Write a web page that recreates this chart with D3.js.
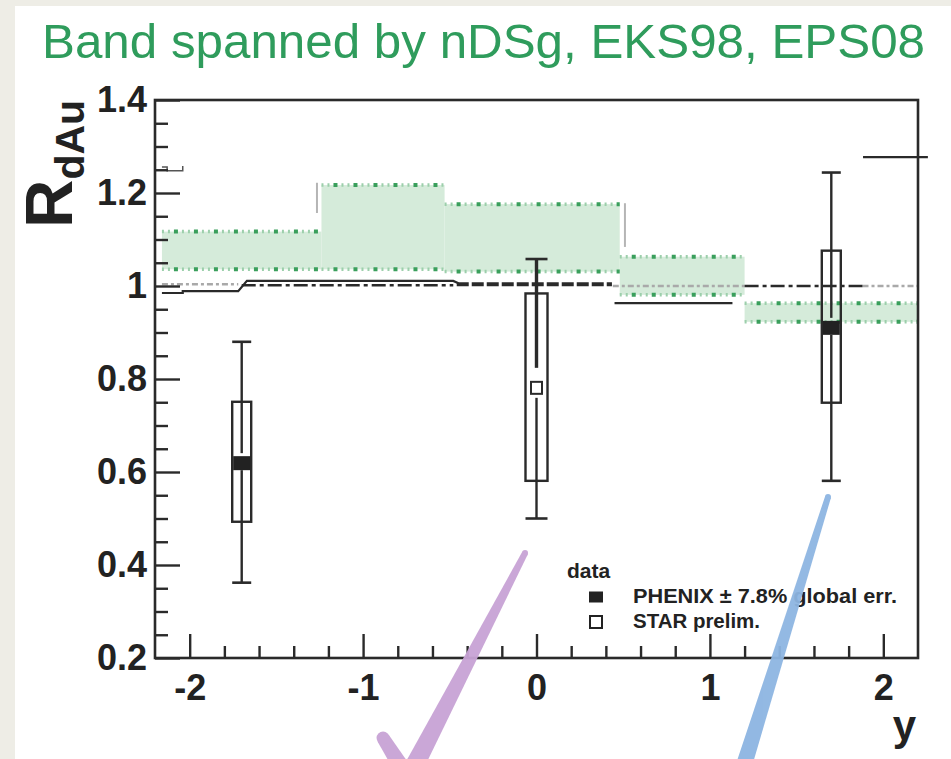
<!DOCTYPE html>
<html><head><meta charset="utf-8">
<script src="https://cdn.jsdelivr.net/npm/d3@7"></script>
<style>
html,body{margin:0;padding:0;background:#fff;}
svg{display:block;}
</style></head>
<body>
<svg id="chart" width="951" height="759"></svg>
<script>
// ---- nPDF band (envelope of nDSg, EKS98, EPS08), step per rapidity bin ----
const bandEdges = [-2.16, -1.24, -0.53, 0.48, 1.2, 2.2];
const bandHigh  = [1.117, 1.217, 1.176, 1.063, 0.963];
const bandLow   = [1.036, 1.036, 1.031, 0.981, 0.923];

// ---- measured R_dAu ----
const pointY    = [-1.7, 0, 1.7];
const pointR    = [0.619, 0.781, 0.910];
const statLow   = [0.362, 0.500, 0.581];
const statHigh  = [0.880, 1.058, 1.244];
const sysLow    = [0.493, 0.581, 0.749];
const sysHigh   = [0.751, 0.984, 1.076];
const pointExp  = ["PHENIX", "STAR", "PHENIX"];

// ---- individual model curves near unity ----
const solidX  = [-2.16, -2.04, -2.04, -1.72, -1.67, -0.48, -0.45];
const solidR  = [0.985, 0.985, 0.989, 0.989, 1.011, 1.011, 1.006];
const solid2X = [0.45, 1.13];
const solid2R = [0.963, 0.963];
const dashDotFrom = [-1.70, 1.20];
const dashDotTo   = [-0.48, 1.88];
const dashDotR    = [1.0015, 1.0];
const thickFrom = [-0.46];
const thickTo   = [0.435];
const thickR    = [1.004];
const grayFrom = [-2.16, 0.44, 1.88];
const grayTo   = [-1.72, 1.20, 2.20];
const grayR    = [1.004, 1.0, 1.0];
const grayVertX  = [-1.266, 0.51];
const grayVertLo = [1.157, 1.084];
const grayVertHi = [1.222, 1.178];

// ---- global normalisation markers ----
const globalRightFrom = 1.883, globalRightTo = 2.257, globalRightR = 1.277;
const globalLeftX = [-2.16, -2.13, -2.13, -2.04, -2.04];
const globalLeftR = [1.256, 1.256, 1.248, 1.248, 1.258];

// ---- axis ticks ----
const yTickValues = [0.2, 0.4, 0.6, 0.8, 1, 1.2, 1.4];
const yTickLabels = ["0.2", "0.4", "0.6", "0.8", "1", "1.2", "1.4"];
const xTickValues = [-2, -1, 0, 1, 2];
const xTickLabels = ["-2", "-1", "0", "1", "2"];

// ---- legend ----
const legendTitle = "data";
const legendNames = ["PHENIX \u00b1 7.8% global err.", "STAR prelim."];
const legendKinds = ["PHENIX", "STAR"];

// ---- hand-drawn check marks (in axis units) ----
const penPurpleX = [-0.066, -0.701];
const penPurpleR = [0.4258, -0.030];
const penPurple2X = [-0.885, -0.787];
const penPurple2R = [0.028, -0.030];
const penBlueX = [1.681, 1.197];
const penBlueR = [0.546, -0.030];

const svg = d3.select("#chart");
const W = 951, H = 759;
const FONT = "'Liberation Sans', Arial, Helvetica, sans-serif";
const INK = "#2a2a2a";

// page background
svg.append("rect").attr("width", W).attr("height", H).attr("fill", "#eeede6");
svg.append("rect").attr("x", 15).attr("y", 6).attr("width", W - 15).attr("height", H - 6).attr("fill", "#ffffff");

const x = d3.scaleLinear().domain([-2.2, 2.2]).range([155, 918]);
const y = d3.scaleLinear().domain([0.2, 1.4]).range([658, 100]);

svg.append("clipPath").attr("id", "plotClip")
  .append("rect").attr("x", 155).attr("y", 100).attr("width", 763).attr("height", 558);

// title
svg.append("text")
  .attr("x", 42).attr("y", 58)
  .attr("font-family", FONT).attr("font-size", 49)
  .attr("fill", "#2f9c5c")
  .attr("textLength", 883).attr("lengthAdjust", "spacingAndGlyphs")
  .text("Band spanned by nDSg, EKS98, EPS08");

const plot = svg.append("g").attr("clip-path", "url(#plotClip)");

// band fill
const bandIdx = d3.range(bandHigh.length);
plot.append("g").selectAll("rect").data(bandIdx).join("rect")
  .attr("x", i => x(bandEdges[i]))
  .attr("width", i => x(bandEdges[i + 1]) - x(bandEdges[i]))
  .attr("y", i => y(bandHigh[i]))
  .attr("height", i => y(bandLow[i]) - y(bandHigh[i]))
  .attr("fill", "#d5ebda");

// band borders: green dotted
const borderSegs = [];
bandIdx.forEach(i => {
  borderSegs.push({x0: bandEdges[i], x1: bandEdges[i + 1], r: bandHigh[i]});
  borderSegs.push({x0: bandEdges[i], x1: bandEdges[i + 1], r: bandLow[i]});
});
const bg = plot.append("g");
bg.selectAll("line.light").data(borderSegs).join("line").attr("class", "light")
  .attr("x1", d => x(d.x0)).attr("x2", d => x(d.x1))
  .attr("y1", d => y(d.r)).attr("y2", d => y(d.r))
  .attr("stroke", "#9ccfab").attr("stroke-width", 3.5)
  .attr("stroke-dasharray", "2,4,2,12");
bg.selectAll("line.dark").data(borderSegs).join("line").attr("class", "dark")
  .attr("x1", d => x(d.x0)).attr("x2", d => x(d.x1))
  .attr("y1", d => y(d.r)).attr("y2", d => y(d.r))
  .attr("stroke", "#3a9f5c").attr("stroke-width", 4)
  .attr("stroke-dasharray", "4,16").attr("stroke-dashoffset", -12);

// model curves
const curves = plot.append("g").attr("fill", "none");
const lineGen = d3.line().x(d => x(d[0])).y(d => y(d[1]));

curves.selectAll("line.gray").data(d3.range(grayFrom.length)).join("line").attr("class", "gray")
  .attr("x1", i => x(grayFrom[i])).attr("x2", i => x(grayTo[i]))
  .attr("y1", i => y(grayR[i])).attr("y2", i => y(grayR[i]))
  .attr("stroke", "#a9a9a9").attr("stroke-width", 2.5).attr("stroke-dasharray", "6,3,3,3");

curves.selectAll("line.gvert").data(d3.range(grayVertX.length)).join("line").attr("class", "gvert")
  .attr("x1", i => x(grayVertX[i])).attr("x2", i => x(grayVertX[i]))
  .attr("y1", i => y(grayVertLo[i])).attr("y2", i => y(grayVertHi[i]))
  .attr("stroke", "#b5b5b5").attr("stroke-width", 2);

curves.append("path")
  .attr("d", lineGen(solidX.map((v, i) => [v, solidR[i]])))
  .attr("stroke", INK).attr("stroke-width", 2.2);
curves.append("path")
  .attr("d", lineGen(solid2X.map((v, i) => [v, solid2R[i]])))
  .attr("stroke", INK).attr("stroke-width", 2.2);

curves.selectAll("line.dd").data(d3.range(dashDotFrom.length)).join("line").attr("class", "dd")
  .attr("x1", i => x(dashDotFrom[i])).attr("x2", i => x(dashDotTo[i]))
  .attr("y1", i => y(dashDotR[i])).attr("y2", i => y(dashDotR[i]))
  .attr("stroke", INK).attr("stroke-width", 2.6).attr("stroke-dasharray", "14,4,4,4");

curves.selectAll("line.thick").data(d3.range(thickFrom.length)).join("line").attr("class", "thick")
  .attr("x1", i => x(thickFrom[i])).attr("x2", i => x(thickTo[i]))
  .attr("y1", i => y(thickR[i])).attr("y2", i => y(thickR[i]))
  .attr("stroke", INK).attr("stroke-width", 4).attr("stroke-dasharray", "12,3");

// global normalisation markers
svg.append("line")
  .attr("x1", x(globalRightFrom)).attr("x2", x(globalRightTo))
  .attr("y1", y(globalRightR)).attr("y2", y(globalRightR))
  .attr("stroke", INK).attr("stroke-width", 2.2);
svg.append("path")
  .attr("d", lineGen(globalLeftX.map((v, i) => [v, globalLeftR[i]])))
  .attr("fill", "none").attr("stroke", "#555").attr("stroke-width", 1.5);

// data points: boxes (systematic), bars (statistical), markers
const pts = d3.range(pointY.length).map(i => ({
  yv: pointY[i], r: pointR[i], lo: statLow[i], hi: statHigh[i],
  slo: sysLow[i], shi: sysHigh[i], exp: pointExp[i]
}));
const halfW = d => d.exp === "STAR" ? 11 : 9.5;
const mk = d => d.exp === "STAR" ? {w: 11, h: 12, gapTop: 14, gapBot: 4} : {w: 17, h: 14, gapTop: 3, gapBot: 0};

const pg = svg.append("g");
pts.forEach(d => {
  const cx = x(d.yv), cy = y(d.r), m = mk(d), hw = halfW(d);
  // systematic box
  pg.append("rect")
    .attr("x", cx - hw).attr("width", 2 * hw)
    .attr("y", y(d.shi)).attr("height", y(d.slo) - y(d.shi))
    .attr("fill", "none").attr("stroke", INK).attr("stroke-width", 2.4);
  // statistical bar
  pg.append("line")
    .attr("x1", cx).attr("x2", cx)
    .attr("y1", y(d.hi)).attr("y2", cy - m.h / 2 - m.gapTop)
    .attr("stroke", INK).attr("stroke-width", d.exp === "STAR" ? 3.4 : 2.4);
  pg.append("line")
    .attr("x1", cx).attr("x2", cx)
    .attr("y1", cy + m.h / 2 + m.gapBot).attr("y2", y(d.lo))
    .attr("stroke", INK).attr("stroke-width", 2.4);
  [d.hi, d.lo].forEach(v => {
    pg.append("line")
      .attr("x1", cx - hw).attr("x2", cx + hw)
      .attr("y1", y(v)).attr("y2", y(v))
      .attr("stroke", INK).attr("stroke-width", 2.6);
  });
  // marker
  if (d.exp === "STAR") {
    pg.append("rect")
      .attr("x", cx - m.w / 2).attr("y", cy - m.h / 2)
      .attr("width", m.w).attr("height", m.h)
      .attr("fill", "#fff").attr("stroke", INK).attr("stroke-width", 2);
  } else {
    pg.append("rect")
      .attr("x", cx - m.w / 2).attr("y", cy - m.h / 2)
      .attr("width", m.w).attr("height", m.h)
      .attr("fill", "#222");
  }
});

// axes: ticks drawn inward, frame on top
const yMinor = d3.range(0.2, 1.4001, 0.05).filter(v => Math.abs(v * 5 - Math.round(v * 5)) > 1e-6);
const xMinor = d3.range(-2.2, 2.2001, 0.2).filter(v => Math.abs(v - Math.round(v)) > 1e-6 && v > -2.19 && v < 2.19);

const yAxisMajor = d3.axisLeft(y).tickValues(yTickValues)
  .tickFormat((d, i) => yTickLabels[i]).tickSize(-25).tickPadding(8);
const yAxisMinor = d3.axisLeft(y).tickValues(yMinor).tickFormat("").tickSize(-13);
const xAxisMajor = d3.axisBottom(x).tickValues(xTickValues)
  .tickFormat((d, i) => xTickLabels[i]).tickSize(-24).tickPadding(16);
const xAxisMinor = d3.axisBottom(x).tickValues(xMinor).tickFormat("").tickSize(-12);

function styleAxis(g) {
  g.select(".domain").remove();
  g.selectAll(".tick line").attr("stroke", INK).attr("stroke-width", 2.4);
  g.selectAll(".tick text")
    .attr("font-family", FONT).attr("font-weight", "bold")
    .attr("font-size", 36).attr("fill", "#222");
}
svg.append("g").attr("transform", "translate(155,0)").call(yAxisMinor).call(styleAxis);
svg.append("g").attr("transform", "translate(155,0)").call(yAxisMajor).call(styleAxis);
svg.append("g").attr("transform", "translate(0,658)").call(xAxisMinor).call(styleAxis);
svg.append("g").attr("transform", "translate(0,658)").call(xAxisMajor).call(styleAxis);

svg.append("rect")
  .attr("x", 155).attr("y", 100).attr("width", 763).attr("height", 558)
  .attr("fill", "none").attr("stroke", INK).attr("stroke-width", 2.6);

// axis titles
const yTitle = svg.append("text")
  .attr("transform", "translate(72,228) rotate(-90)")
  .attr("font-family", FONT).attr("font-weight", "bold").attr("fill", "#222");
yTitle.append("tspan").attr("font-size", 67).text("R");
yTitle.append("tspan").attr("font-size", 41).attr("dy", 12).text("dAu");

svg.append("text")
  .attr("x", 916).attr("y", 740).attr("text-anchor", "end")
  .attr("font-family", FONT).attr("font-weight", "bold").attr("font-size", 42)
  .attr("fill", "#222").text("y");

// legend
const lg = svg.append("g").attr("font-family", FONT).attr("font-weight", "bold").attr("fill", "#222");
lg.append("text").attr("x", 567).attr("y", 578).attr("font-size", 21).text(legendTitle);
legendNames.forEach((name, i) => {
  const cy = 597 + i * 25;
  if (legendKinds[i] === "STAR") {
    lg.append("rect").attr("x", 590).attr("y", cy - 6).attr("width", 12).attr("height", 12)
      .attr("fill", "#fff").attr("stroke", "#222").attr("stroke-width", 2);
  } else {
    lg.append("rect").attr("x", 589).attr("y", cy - 5.5).attr("width", 14).attr("height", 11)
      .attr("fill", "#222");
  }
  const t = lg.append("text").attr("x", 633).attr("y", cy + 6).attr("font-size", 21).text(name);
  if (i === 0) t.attr("textLength", 264).attr("lengthAdjust", "spacingAndGlyphs");
  else t.attr("textLength", 127).attr("lengthAdjust", "spacingAndGlyphs");
});

// hand-drawn check marks over the figure
function brush(xs, rs, w0, w1, color) {
  const p0 = [x(xs[0]), y(rs[0])], p1 = [x(xs[1]), y(rs[1])];
  const dx = p1[0] - p0[0], dy = p1[1] - p0[1], L = Math.hypot(dx, dy);
  const nx = -dy / L, ny = dx / L;
  const poly = [
    [p0[0] + nx * w0 / 2, p0[1] + ny * w0 / 2],
    [p1[0] + nx * w1 / 2, p1[1] + ny * w1 / 2],
    [p1[0] - nx * w1 / 2, p1[1] - ny * w1 / 2],
    [p0[0] - nx * w0 / 2, p0[1] - ny * w0 / 2]
  ];
  const g = svg.append("g").attr("fill", color).attr("opacity", 0.95);
  g.append("path").attr("d", "M" + poly.map(p => p.join(",")).join("L") + "Z");
  g.append("circle").attr("cx", p0[0]).attr("cy", p0[1]).attr("r", w0 / 2);
  g.append("circle").attr("cx", p1[0]).attr("cy", p1[1]).attr("r", w1 / 2);
}
brush(penPurpleX, penPurpleR, 6, 19, "#c8a3d5");
brush(penPurple2X, penPurple2R, 13, 16, "#c8a3d5");
brush(penBlueX, penBlueR, 6, 16, "#8db5e2");
</script>
</body></html>
